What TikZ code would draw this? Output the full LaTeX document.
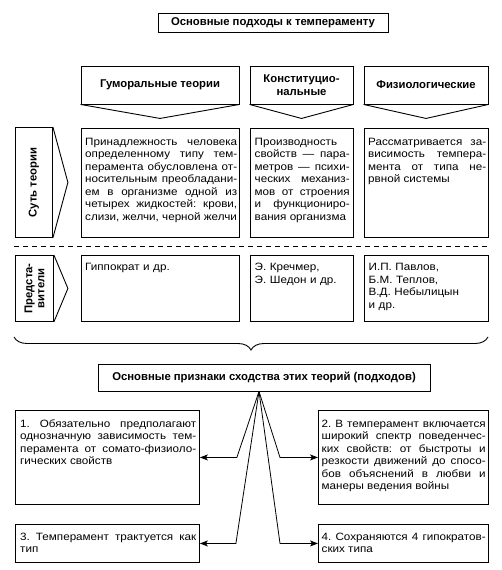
\documentclass[tikz,border=0pt]{standalone}
\usepackage{fontspec}
\setmainfont{Liberation Sans}
\newfontfamily\regf{Liberation Sans}[FakeStretch=1.1]
\usetikzlibrary{decorations.pathreplacing,arrows.meta}
\frenchspacing
\begin{document}
\begin{tikzpicture}[x=1pt,y=-1pt,
  frame/.style={draw, line width=0.9pt, inner sep=0pt},
  hd/.style={font=\fontsize{11.3}{13}\selectfont\bfseries, align=center},
  sidetxt/.style={font=\fontsize{11.3}{12}\selectfont\bfseries, align=center, inner sep=0pt},
  body/.style={font=\regf\fontsize{10.6}{12.5}\selectfont, inner sep=0pt, anchor=north west, align=justify, text width=#1},
  rag/.style={font=\regf\fontsize{10.6}{12.5}\selectfont, inner sep=0pt, anchor=north west, align=left, text width=#1},
  chev/.style={line width=0.9pt},
  conn/.style={line width=0.8pt, -{Stealth[length=8pt,width=6pt,inset=2pt]}},
  sep/.style={line width=0.9pt, dash pattern=on 5pt off 4pt}
]
\useasboundingbox (0,0) rectangle (501,570);

% title
\node[frame, hd, minimum width=230pt, minimum height=19pt] (title) at (273,22.5) {Основные подходы к темпераменту};

% headers
\node[frame, hd, minimum width=158pt, minimum height=38pt] (h1) at (160,85) {Гуморальные теории};
\node[frame, hd, minimum width=103pt, minimum height=38pt] (h2) at (301.5,85) {Конституцио-\\нальные};
\node[frame, hd, minimum width=124pt, minimum height=38pt] (h3) at (426,85) {Физиологические};
\foreach \h in {h1,h2,h3}
  \draw[chev] (\h.south west) -- ([yshift=-14pt]\h.south) -- (\h.south east);

% side labels
\node[frame, anchor=north west, minimum width=37pt, minimum height=110pt] (s1) at (15,127) {};
\node[sidetxt, rotate=90] (s1t) at (s1.center) {Суть теории};
\draw[chev] (s1.north east) -- ([xshift=15pt]s1.east) -- (s1.south east);
\node[frame, anchor=north west, minimum width=38pt, minimum height=66pt] (s2) at (15,255) {};
\node[sidetxt, rotate=90] (s2t) at (s2.center) {Предста-\\вители};
\draw[chev] (s2.north east) -- ([xshift=14pt]s2.east) -- (s2.south east);

% content row
\node[frame, anchor=north west, minimum width=158pt, minimum height=109pt] (c1) at (81,128) {};
\node[body=152pt] (c1t) at ([shift={(4pt,-8.5pt)}]c1.north west) {\strut Принадлежность человека\linebreak
определенному типу тем-\linebreak
перамента обусловлена от-\linebreak
носительным преобладани-\linebreak
ем в организме одной из\linebreak
четырех жидкостей: крови,\linebreak
слизи, желчи, черной желчи};
\node[frame, anchor=north west, minimum width=103pt, minimum height=109pt] (c2) at (250,128) {};
\node[body=95pt] (c2t) at ([shift={(4.5pt,-8.5pt)}]c2.north west) {\strut Производность\linebreak
свойств — пара-\linebreak
метров — психи-\linebreak
ческих механиз-\linebreak
мов от строения\linebreak
и функциониро-\linebreak
вания организма};
\node[frame, anchor=north west, minimum width=124pt, minimum height=109pt] (c3) at (364,128) {};
\node[body=118pt] (c3t) at ([shift={(4pt,-8.5pt)}]c3.north west) {\strut Рассматривается за-\linebreak
висимость темпера-\linebreak
мента от типа не-\linebreak
рвной системы};

% separator
\coordinate (dl) at (14,246);
\coordinate (dr) at (490,246);
\draw[sep] (dl) -- (dr);

% representatives row
\node[frame, anchor=north west, minimum width=158pt, minimum height=66pt] (p1) at (81,255) {};
\node[rag=150pt] (p1t) at ([shift={(4pt,-7pt)}]p1.north west) {\strut Гиппократ и др.};
\node[frame, anchor=north west, minimum width=103pt, minimum height=66pt] (p2) at (250,255) {};
\node[rag=95pt] (p2t) at ([shift={(4.5pt,-7pt)}]p2.north west) {\strut Э. Кречмер,\\Э. Шедон и др.};
\node[frame, anchor=north west, minimum width=124pt, minimum height=66pt] (p3) at (364,255) {};
\node[rag=117pt] (p3t) at ([shift={(4.5pt,-7pt)}]p3.north west) {\strut И.П. Павлов,\\Б.М. Теплов,\\В.Д. Небылицын\\и др.};

% brace
\coordinate (br) at (488,337);
\coordinate (bl) at (14,337);
\draw[line width=0.9pt, decorate, decoration={brace, amplitude=13pt}] (br) -- (bl);

% similarity box
\node[frame, hd, minimum width=332pt, minimum height=27pt] (sim) at (264,377.5) {Основные признаки сходства этих теорий (подходов)};
\coordinate (apex) at ([xshift=-5pt]sim.south);

% bottom boxes
\node[frame, anchor=north west, minimum width=184pt, minimum height=94pt] (b1) at (15,410) {};
\node[body=176pt] (b1t) at ([shift={(5pt,-8.5pt)}]b1.north west) {\strut 1. Обязательно предполагают\linebreak
однозначную зависимость тем-\linebreak
перамента от сомато-физиоло-\linebreak
гических свойств};
\node[frame, anchor=north west, minimum width=170pt, minimum height=94pt] (b2) at (318,410) {};
\node[body=164pt] (b2t) at ([shift={(3.5pt,-8.5pt)}]b2.north west) {\strut 2. В темперамент включается\linebreak
широкий спектр поведенчес-\linebreak
ких свойств: от быстроты и\linebreak
резкости движений до спосо-\linebreak
бов объяснений в любви и\linebreak
манеры ведения войны};
\node[frame, anchor=north west, minimum width=184pt, minimum height=38pt] (b3) at (15,524) {};
\node[body=176pt] (b3t) at ([shift={(5pt,-7.5pt)}]b3.north west) {\strut 3. Темперамент трактуется как\linebreak
тип};
\node[frame, anchor=north west, minimum width=170pt, minimum height=38pt] (b4) at (318,524) {};
\node[body=164pt] (b4t) at ([shift={(3.5pt,-7.5pt)}]b4.north west) {\strut 4. Сохраняются 4 гипократов-\linebreak
ских типа};

% fan connectors
\draw[conn] (apex) -- ([xshift=37pt]b1.east) -- (b1.east);
\draw[conn] (apex) -- ([xshift=-38pt]b2.west) -- (b2.west);
\draw[conn] (apex) -- ([xshift=36pt]b3.east) -- (b3.east);
\draw[conn] (apex) -- ([xshift=-38pt]b4.west) -- (b4.west);
\end{tikzpicture}
\end{document}
